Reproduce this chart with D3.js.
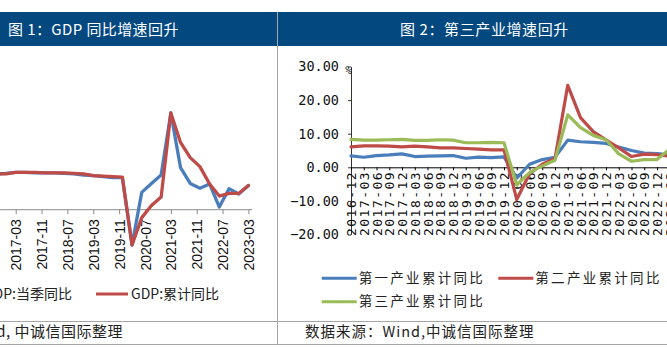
<!DOCTYPE html>
<html>
<head>
<meta charset="utf-8">
<script src="https://cdn.jsdelivr.net/npm/d3@7"></script>
<style>
  html, body { margin: 0; padding: 0; background: #fff; }
  svg { display: block; }
</style>
</head>
<body>
<svg id="chart" width="667" height="347"></svg>
<script>
// ---- Figure 1: GDP growth (quarterly / cumulative, % y/y) ----
const gdpDates = ["2016-03","2016-06","2016-09","2016-12",
  "2017-03","2017-06","2017-09","2017-12",
  "2018-03","2018-06","2018-09","2018-12",
  "2019-03","2019-06","2019-09","2019-12",
  "2020-03","2020-06","2020-09","2020-12",
  "2021-03","2021-06","2021-09","2021-12",
  "2022-03","2022-06","2022-09","2022-12",
  "2023-03"];
const gdpQuarterly = [6.9,6.7,6.7,6.8, 7.0,7.0,6.9,6.9, 6.9,6.8,6.7,6.5, 6.4,6.2,6.0,6.0,
  -6.8,3.2,4.9,6.5, 18.3,7.9,4.9,4.0, 4.8,0.4,3.9,2.9, 4.5];
const gdpCumulative = [6.9,6.8,6.7,6.7, 7.0,7.0,7.0,6.9, 6.9,6.9,6.8,6.7, 6.4,6.3,6.2,6.1,
  -6.8,-1.6,0.7,2.3, 18.3,12.7,9.8,8.1, 4.8,2.5,3.0,3.0, 4.5];
const gdpTickLabels = ["2017-03","2017-11","2018-07","2019-03","2019-11",
  "2020-07","2021-03","2021-11","2022-07","2023-03"];
const gdpSeriesNames = ["GDP:当季同比", "GDP:累计同比"];

// ---- Figure 2: growth by industry (cumulative, % y/y) ----
const sectorDates = ["2016-12",
  "2017-03","2017-06","2017-09","2017-12",
  "2018-03","2018-06","2018-09","2018-12",
  "2019-03","2019-06","2019-09","2019-12",
  "2020-03","2020-06","2020-09","2020-12",
  "2021-03","2021-06","2021-09","2021-12",
  "2022-03","2022-06","2022-09","2022-12",
  "2023-03"];
const primaryCum = [3.4, 3.0,3.5,3.7,4.0, 3.2,3.3,3.4,3.5, 2.7,3.0,2.9,3.1,
  -3.2,0.9,2.3,3.0, 8.1,7.6,7.4,7.1, 6.0,5.0,4.2,4.1, 3.7];
const secondaryCum = [6.1, 6.4,6.4,6.3,6.1, 6.3,6.1,5.8,5.8, 5.6,5.4,5.2,5.2,
  -9.6,-1.9,0.9,2.6, 24.4,14.8,10.6,8.2, 5.8,3.2,3.9,3.8, 3.3];
const tertiaryCum = [8.3, 8.1,8.1,8.2,8.3, 8.0,8.0,8.2,8.1, 7.3,7.3,7.4,7.3,
  -5.2,-1.6,0.4,2.1, 15.6,11.8,9.5,8.2, 4.0,1.8,2.3,2.3, 5.4];
const sectorYTicks = [30, 20, 10, 0, -10, -20];
const sectorSeriesNames = ["第一产业累计同比", "第二产业累计同比", "第三产业累计同比"];

const BLUE = "#4A7EBB", RED = "#BE4B48", GREEN = "#9BBB59";
const HEADER = "#03487f", RULE = "#a6a6a6";
const CJK = "'Noto Sans CJK SC', 'Noto Sans', sans-serif";
const MONO = "'DejaVu Sans Mono', monospace";

const svg = d3.select("#chart");

// month index from "YYYY-MM"
const mi = s => { const [y, m] = s.split("-").map(Number); return y * 12 + (m - 1); };

// ---------- frame ----------
svg.append("rect").attr("x", 0).attr("y", 12).attr("width", 667).attr("height", 34).attr("fill", HEADER);
svg.append("line").attr("x1", 277.5).attr("x2", 277.5).attr("y1", 12).attr("y2", 344)
  .attr("stroke", RULE).attr("stroke-width", 1);
svg.append("line").attr("x1", 0).attr("x2", 667).attr("y1", 321.5).attr("y2", 321.5)
  .attr("stroke", RULE).attr("stroke-width", 1);
svg.append("line").attr("x1", 0).attr("x2", 667).attr("y1", 344.5).attr("y2", 344.5)
  .attr("stroke", RULE).attr("stroke-width", 1);

svg.append("text").attr("x", 8).attr("y", 30).attr("dy", "0.35em")
  .attr("fill", "#fff").style("font-family", CJK).style("font-size", "15px")
  .style("letter-spacing", "0.4px").text("图 1：GDP 同比增速回升");
svg.append("text").attr("x", 400).attr("y", 30).attr("dy", "0.35em")
  .attr("fill", "#fff").style("font-family", CJK).style("font-size", "15px")
  .style("letter-spacing", "0.6px").text("图 2：第三产业增速回升");

// ---------- Figure 1 ----------
const x1 = d3.scaleLinear().domain([mi("2017-03"), mi("2023-03")]).range([15.7, 248.4]);
const y1 = d3.scaleLinear().domain([-10, 20]).range([261.8, 104.0]);

const g1 = svg.append("g");
const ax1 = g1.append("g").attr("transform", `translate(0,${y1(0)})`)
  .call(d3.axisBottom(x1).tickValues(gdpTickLabels.map(mi))
    .tickFormat((d, i) => gdpTickLabels[i]).tickSizeInner(5).tickSizeOuter(0));
ax1.select(".domain").remove();
ax1.append("line").attr("x1", x1(mi("2015-12"))).attr("x2", x1(mi("2023-04")) + 0.5)
  .attr("y1", 0.5).attr("y2", 0.5).attr("stroke", "#8c8c8c");
ax1.selectAll(".tick line").attr("stroke", "#8c8c8c");
ax1.selectAll(".tick text")
  .attr("transform", "rotate(-90)").attr("x", -10).attr("y", 0).attr("dy", "0.36em")
  .style("text-anchor", "end").style("font-family", "'Liberation Sans', Arial, sans-serif")
  .style("font-size", "14px").attr("fill", "#111");

const line1 = vals => d3.line().x((d, i) => x1(mi(gdpDates[i]))).y(d => y1(d))(vals);
[[gdpQuarterly, BLUE], [gdpCumulative, RED]].forEach(([vals, c]) => {
  g1.append("path").attr("d", line1(vals)).attr("fill", "none").attr("stroke", c)
    .attr("stroke-width", 3.3).attr("stroke-linejoin", "round").attr("stroke-linecap", "round");
});

// legend
const leg1 = svg.append("g").style("font-family", CJK).style("font-size", "14px").attr("fill", "#222");
leg1.append("line").attr("x1", -37).attr("x2", -5).attr("y1", 294).attr("y2", 294).attr("stroke", BLUE).attr("stroke-width", 3);
leg1.append("text").attr("x", 72).attr("y", 294).attr("dy", "0.35em").attr("text-anchor", "end").text(gdpSeriesNames[0]);
leg1.append("line").attr("x1", 96).attr("x2", 128).attr("y1", 294).attr("y2", 294).attr("stroke", RED).attr("stroke-width", 3);
leg1.append("text").attr("x", 131).attr("y", 294).attr("dy", "0.35em").text(gdpSeriesNames[1]);

svg.append("text").attr("x", 123).attr("y", 332).attr("dy", "0.35em").attr("text-anchor", "end")
  .style("font-family", CJK).style("font-size", "15px").style("letter-spacing", "0.5px")
  .attr("fill", "#222").text("数据来源：Wind, 中诚信国际整理");

// ---------- Figure 2 ----------
const x2 = d3.scaleLinear().domain([0, sectorDates.length - 1]).range([351, 351 + 25 * 12.75]);
const y2 = d3.scaleLinear().domain([-20, 30]).range([234.5, 66.5]);

const g2 = svg.append("g");
const yAx = g2.append("g").attr("transform", "translate(351,0)")
  .call(d3.axisLeft(y2).tickValues(sectorYTicks).tickFormat(d3.format(".2f"))
    .tickSizeInner(3).tickSizeOuter(0).tickPadding(9));
yAx.select(".domain").attr("stroke", "#333");
yAx.selectAll(".tick line").attr("stroke", "#333");
yAx.selectAll(".tick text").style("font-family", MONO).style("font-size", "13.5px").attr("fill", "#111");

g2.append("text").attr("x", 348.5).attr("y", 70).attr("dy", "0.35em").attr("text-anchor", "middle")
  .style("font-family", MONO).style("font-size", "11px").attr("fill", "#111").text("%");

const xAx = g2.append("g").attr("transform", `translate(0,${y2(0)})`)
  .call(d3.axisBottom(x2).tickValues(d3.range(sectorDates.length))
    .tickFormat(i => sectorDates[i]).tickSizeInner(3).tickSizeOuter(0));
xAx.select(".domain").attr("stroke", "#000").attr("d", `M351,0.5H700`);
xAx.selectAll(".tick line").attr("stroke", "#000");
xAx.selectAll(".tick text")
  .attr("transform", "rotate(-90)").attr("x", -3.5).attr("y", 0).attr("dy", "0.36em")
  .style("text-anchor", "end").style("font-family", MONO).style("font-size", "13px")
  .style("letter-spacing", "1.5px").attr("fill", "#111");

const line2 = vals => d3.line().x((d, i) => x2(i)).y(d => y2(d))(vals);
[[primaryCum, BLUE], [secondaryCum, RED], [tertiaryCum, GREEN]].forEach(([vals, c]) => {
  g2.append("path").attr("d", line2(vals)).attr("fill", "none").attr("stroke", c)
    .attr("stroke-width", 3.2).attr("stroke-linejoin", "round").attr("stroke-linecap", "round");
});

// legend
const leg2 = svg.append("g").style("font-family", CJK).style("font-size", "13.5px")
  .style("letter-spacing", "2.3px").attr("fill", "#222");
[[321.7, 278.3, BLUE, 0], [498.3, 278.3, RED, 1], [321.7, 301.7, GREEN, 2]].forEach(([lx, ly, c, k]) => {
  leg2.append("line").attr("x1", lx).attr("x2", lx + 35).attr("y1", ly).attr("y2", ly)
    .attr("stroke", c).attr("stroke-width", 3);
  leg2.append("text").attr("x", lx + 37).attr("y", ly).attr("dy", "0.35em").text(sectorSeriesNames[k]);
});

svg.append("text").attr("x", 305).attr("y", 332).attr("dy", "0.35em")
  .style("font-family", CJK).style("font-size", "14.5px").style("letter-spacing", "1px")
  .attr("fill", "#222").text("数据来源：Wind,中诚信国际整理");
</script>
</body>
</html>
